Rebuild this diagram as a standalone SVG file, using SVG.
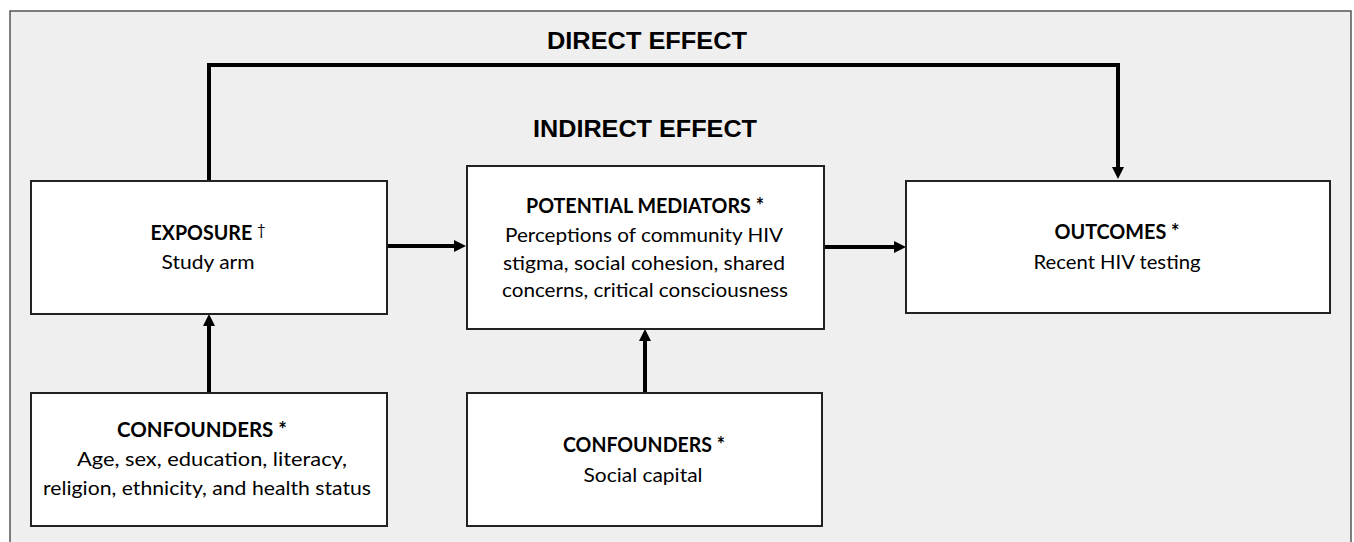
<svg xmlns="http://www.w3.org/2000/svg" width="1354" height="542" viewBox="0 0 1354 542">
<defs>
<style>
.frame{fill:#efefef;stroke:#555;stroke-width:1.5}
.box{fill:#fff;stroke:#222;stroke-width:2}
.conn{fill:none;stroke:#000;stroke-width:4}
.title{font-family:"Liberation Sans",Arial,sans-serif;font-weight:bold;font-size:24px;fill:#000;text-anchor:middle}
.hd{font-family:Lato,"Open Sans",sans-serif;font-weight:bold;font-size:20px;fill:#000;text-anchor:middle}
.tx{font-family:Lato,"Open Sans",sans-serif;font-size:20px;fill:#000;text-anchor:middle}
</style>
<marker id="ah" markerUnits="userSpaceOnUse" markerWidth="12" markerHeight="12" refX="2" refY="6" orient="auto" viewBox="0 0 12 12">
<path d="M0,0 L12,6 L0,12 z" fill="#000"/>
</marker>
</defs>
<rect x="0" y="0" width="1354" height="542" fill="#fff"/>
<rect class="frame" x="10" y="11" width="1341" height="545"/>
<text class="title" x="647" y="49" textLength="200" lengthAdjust="spacingAndGlyphs">DIRECT EFFECT</text>
<text class="title" x="645" y="137" textLength="224" lengthAdjust="spacingAndGlyphs">INDIRECT EFFECT</text>
<g id="connectors">
<path class="conn" d="M209,181 V65 H1118 V169" marker-end="url(#ah)"/>
<path class="conn" d="M387,246 H456" marker-end="url(#ah)"/>
<path class="conn" d="M824,247 H896" marker-end="url(#ah)"/>
<path class="conn" d="M209,393 V324" marker-end="url(#ah)"/>
<path class="conn" d="M645,393 V339" marker-end="url(#ah)"/>
</g>
<g id="exposure">
<rect class="box" x="31" y="181" width="356" height="133"/>
<text class="hd" x="208" y="240" textLength="115" lengthAdjust="spacingAndGlyphs">EXPOSURE <tspan font-size="15" font-weight="normal" dy="-5">†</tspan></text>
<text class="tx" x="208" y="269" textLength="93" lengthAdjust="spacingAndGlyphs">Study arm</text>
</g>
<g id="mediators">
<rect class="box" x="467" y="166" width="357" height="163"/>
<text class="hd" x="645" y="213" textLength="238" lengthAdjust="spacingAndGlyphs">POTENTIAL MEDIATORS *</text>
<text class="tx" x="644" y="242" textLength="278" lengthAdjust="spacingAndGlyphs">Perceptions of community HIV</text>
<text class="tx" x="644" y="270" textLength="282" lengthAdjust="spacingAndGlyphs">stigma, social cohesion, shared</text>
<text class="tx" x="645" y="297" textLength="286" lengthAdjust="spacingAndGlyphs">concerns, critical consciousness</text>
</g>
<g id="outcomes">
<rect class="box" x="906" y="181" width="424" height="132"/>
<text class="hd" x="1117" y="239" textLength="125" lengthAdjust="spacingAndGlyphs">OUTCOMES  *</text>
<text class="tx" x="1117" y="269" textLength="167" lengthAdjust="spacingAndGlyphs">Recent HIV testing</text>
</g>
<g id="confounders1">
<rect class="box" x="31" y="393" width="356" height="133"/>
<text class="hd" x="202" y="437" textLength="170" lengthAdjust="spacingAndGlyphs">CONFOUNDERS *</text>
<text class="tx" x="212" y="466" textLength="270" lengthAdjust="spacingAndGlyphs">Age, sex, education, literacy,</text>
<text class="tx" x="207" y="495" textLength="328" lengthAdjust="spacingAndGlyphs">religion, ethnicity, and health status</text>
</g>
<g id="confounders2">
<rect class="box" x="467" y="393" width="355" height="133"/>
<text class="hd" x="644" y="452" textLength="162" lengthAdjust="spacingAndGlyphs">CONFOUNDERS *</text>
<text class="tx" x="643" y="482" textLength="119" lengthAdjust="spacingAndGlyphs">Social capital</text>
</g>
</svg>
